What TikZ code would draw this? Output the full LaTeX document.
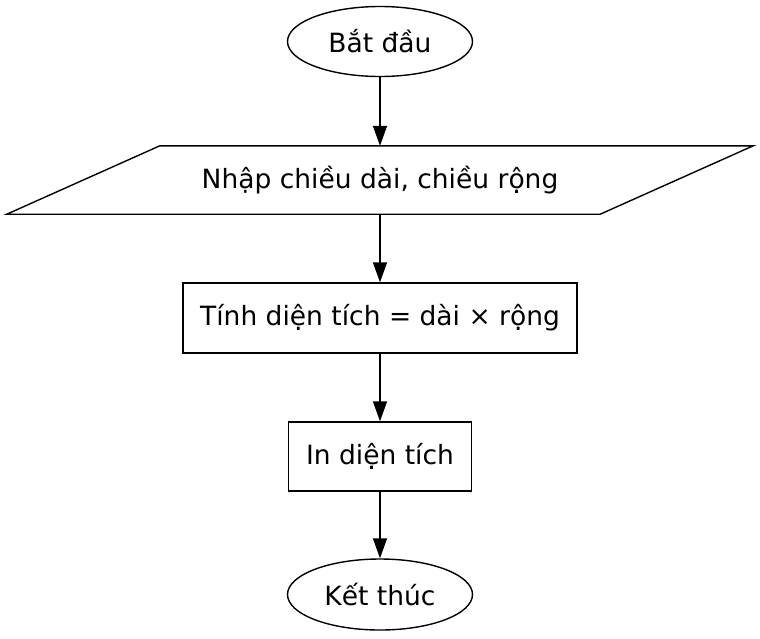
\documentclass[tikz,border=0pt]{standalone}
\usepackage{fontspec}
\setmainfont{DejaVu Sans}
\usetikzlibrary{arrows.meta,calc,shapes.geometric}

\begin{document}
\begin{tikzpicture}[
  x=1pt, y=-1pt,
  >={Triangle[length=20pt,width=14pt]},
  debutfin/.style={ellipse,draw,line width=1.4pt,minimum width=185pt,minimum height=70pt,inner sep=0pt},
  traitement/.style={rectangle,draw,line width=1.4pt,minimum height=70pt,inner sep=0pt},
  entree/.style={minimum width=593pt,minimum height=68pt,inner sep=0pt},
  fleche/.style={line width=1.4pt,->},
  font=\fontsize{26.5}{31}\selectfont,
]
  \useasboundingbox (0,0) rectangle (760,638);

  % Noeuds
  \node[debutfin] (debut) at (380,41.5) {Bắt đầu};
  \node[entree] (saisie) at (380,180) {Nhập chiều dài, chiều rộng};
  \node[traitement,minimum width=394pt] (calcul) at (380,318) {Tính diện tích = dài × rộng};
  \node[traitement,minimum width=183pt,minimum height=69pt] (affiche) at (380,456.5) {In diện tích};
  \node[debutfin,minimum height=71pt] (fin) at (380,594.5) {Kết thúc};

  % Parallelogramme (entree)
  \draw[line width=1.4pt] ($(saisie.south west)+(-76.5,0)$) -- ($(saisie.south east)+(-76.5,0)$)
    -- ($(saisie.north east)+(76.5,0)$) -- ($(saisie.north west)+(76.5,0)$) -- cycle;

  % Fleches
  \draw[fleche] (debut) -- (saisie);
  \draw[fleche] (saisie) -- (calcul);
  \draw[fleche] (calcul) -- (affiche);
  \draw[fleche] (affiche) -- (fin);
\end{tikzpicture}
\end{document}
